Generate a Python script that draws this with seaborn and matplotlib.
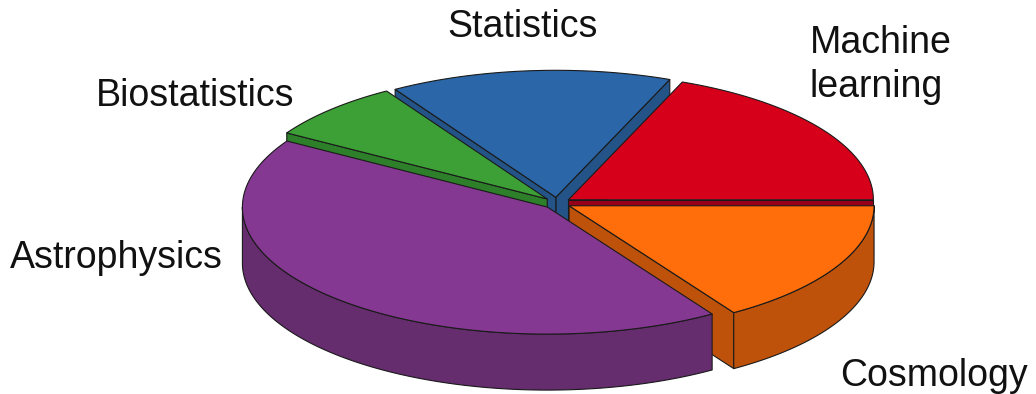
import numpy as np
import matplotlib
matplotlib.use("Agg")
import matplotlib.pyplot as plt
from matplotlib.patches import Polygon
import seaborn as sns

# Slices in counter-clockwise order, starting at 3 o'clock
labels = ["Machine\nlearning", "Statistics", "Biostatistics", "Astrophysics", "Cosmology"]
shares = [19, 15, 7.5, 43, 16]
top_colors = ["#D7001B", "#2B67A8", "#3DA036", "#853891", "#FF6E0A"]
side_colors = ["#98001A", "#245487", "#2E7F2A", "#652C6E", "#BF520A"]

# Label anchors (pixel coords of the first baseline) and alignment
label_pos = [(810, 53), (523, 37), (96, 106), (10, 268), (840, 386)]
label_ha = ["left", "center", "left", "left", "left"]
line_step = 44

sns.set_theme(style="white")
plt.rcParams["font.family"] = ["Liberation Sans", "DejaVu Sans"]

W, H = 1036, 394
fig = plt.figure(figsize=(W / 100, H / 100), dpi=100)
ax = fig.add_axes([0, 0, 1, 1])
ax.set_xlim(0, W)
ax.set_ylim(H, 0)
ax.axis("off")

# Oblique projection of the pie disc
cx, cy, rx, ry, depth, explode = 557, 203, 305, 127, 56, 0.045
edge = "#1a1a1a"
lw = 0.8


def proj(X, Y, z):
    return np.column_stack([cx + rx * np.asarray(X), cy - ry * np.asarray(Y) + depth * z])


fracs = np.array(shares, dtype=float)
fracs = fracs / fracs.sum()
bounds = np.concatenate([[0], np.cumsum(fracs) * 360])

sides = []  # (depth key, polygon, color)
tops = []
for i in range(len(shares)):
    t1, t2 = bounds[i], bounds[i + 1]
    mid = np.deg2rad((t1 + t2) / 2)
    ox, oy = explode * np.cos(mid), explode * np.sin(mid)
    ts = np.deg2rad(np.linspace(t1, t2, 120))
    ax_ = ox + np.cos(ts)
    ay_ = oy + np.sin(ts)
    top = np.vstack([proj([ox], [oy], 0), proj(ax_, ay_, 0)])
    tops.append((top, top_colors[i]))

    # outer curved wall (front half only)
    a, b = max(t1, 180), min(t2, 360)
    if b > a:
        ws = np.deg2rad(np.linspace(a, b, 120))
        wx, wy = ox + np.cos(ws), oy + np.sin(ws)
        poly = np.vstack([proj(wx, wy, 0), proj(wx[::-1], wy[::-1], 1)])
        sides.append((wy.mean(), poly, side_colors[i]))

    # radial walls facing the viewer
    for t, visible in ((t1, np.cos(np.deg2rad(t1)) > 1e-9),
                       (t2, np.cos(np.deg2rad(t2)) < -1e-9)):
        if not visible:
            continue
        r = np.deg2rad(t)
        ex, ey = ox + np.cos(r), oy + np.sin(r)
        poly = np.vstack([proj([ox, ex], [oy, ey], 0), proj([ex, ox], [ey, oy], 1)])
        sides.append(((oy + ey) / 2, poly, side_colors[i]))

for _, poly, col in sorted(sides, key=lambda s: -s[0]):
    ax.add_patch(Polygon(poly, closed=True, facecolor=col, edgecolor=edge, linewidth=lw,
                         joinstyle="round"))
for poly, col in tops:
    ax.add_patch(Polygon(poly, closed=True, facecolor=col, edgecolor=edge, linewidth=lw,
                         joinstyle="round"))

for lab, (x, y), ha in zip(labels, label_pos, label_ha):
    for k, line in enumerate(lab.split("\n")):
        ax.text(x, y + k * line_step, line, ha=ha, va="baseline", fontsize=27,
                color="#111111")

fig.savefig("out.png", dpi=100)
